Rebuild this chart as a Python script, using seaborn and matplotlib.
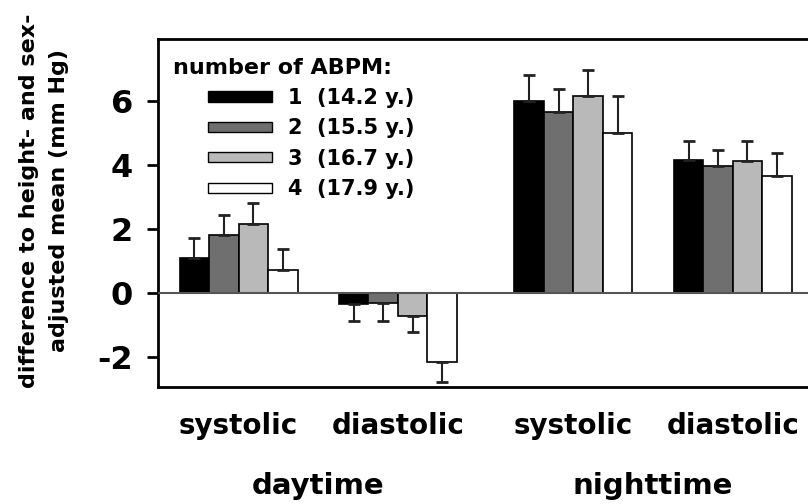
import matplotlib
matplotlib.use('Agg')
import matplotlib.pyplot as plt
import seaborn as sns
import pandas as pd
from matplotlib.patches import Patch
from matplotlib.transforms import blended_transform_factory

# chart data
periods = ['daytime', 'daytime', 'nighttime', 'nighttime']
measures = ['systolic', 'diastolic', 'systolic', 'diastolic']
abpm = ['1', '2', '3', '4']
ages = ['14.2', '15.5', '16.7', '17.9']

# mean difference per ABPM, in the order of `measures`
mean_1 = [1.10, -0.33, 6.01, 4.17]
mean_2 = [1.82, -0.31, 5.68, 3.99]
mean_3 = [2.16, -0.70, 6.18, 4.14]
mean_4 = [0.73, -2.16, 5.00, 3.67]

# error bar length (one-sided, away from zero)
err_1 = [0.63, 0.53, 0.81, 0.59]
err_2 = [0.63, 0.55, 0.72, 0.49]
err_3 = [0.65, 0.50, 0.80, 0.62]
err_4 = [0.65, 0.60, 1.17, 0.72]

means = [mean_1, mean_2, mean_3, mean_4]
errs = [err_1, err_2, err_3, err_4]
colors = ['#000000', '#6f6f6f', '#b9b9b9', '#ffffff']

# a little extra gap between daytime and nighttime groups
pos = [i + (0.1 if p == 'nighttime' else 0.0) for i, p in enumerate(periods)]

rows = []
for n, vals in zip(abpm, means):
    for x, v in zip(pos, vals):
        rows.append({'pos': x, 'abpm': n, 'value': v})
df = pd.DataFrame(rows)

sns.set_theme(style='white')
plt.rcParams['font.family'] = ['DejaVu Sans']
plt.rcParams['font.weight'] = 'bold'
plt.rcParams['axes.unicode_minus'] = False
for k in ['text.color', 'axes.labelcolor', 'xtick.color', 'ytick.color']:
    plt.rcParams[k] = 'black'

fig = plt.figure(figsize=(8.08, 5.04), dpi=100)
ax = fig.add_axes([158 / 808, 1 - 387 / 504, 672 / 808, 348 / 504])

sns.barplot(data=df, x='pos', y='value', hue='abpm', native_scale=True,
            palette=colors, edgecolor='black', linewidth=1.2, width=0.74,
            errorbar=None, legend=False, ax=ax)

# one-sided error bars
for cont, e_list in zip(ax.containers, errs):
    for bar, e in zip(cont, e_list):
        h = bar.get_height()
        xc = bar.get_x() + bar.get_width() / 2
        yerr = [[0], [e]] if h >= 0 else [[e], [0]]
        ax.errorbar(xc, h, yerr=yerr, fmt='none', ecolor='#222222',
                    elinewidth=1.5, capsize=4, capthick=2, zorder=1)

ax.axhline(0, color='#555555', lw=1.5, zorder=3)

ax.set_ylim(-2.93, 7.95)
ax.set_xlim(-0.505, 3.71)
ax.set_yticks([-2, 0, 2, 4, 6])
ax.tick_params(axis='y', left=True, direction='out', length=8, width=2,
               pad=10, labelsize=23, colors='black')
ax.set_xticks(pos, measures)
ax.tick_params(axis='x', length=0, pad=18, labelsize=20, colors='black')
for lab in ax.get_xticklabels() + ax.get_yticklabels():
    lab.set_fontweight('bold')
for s in ax.spines.values():
    s.set_color('black')
    s.set_linewidth(2)

ax.set_xlabel('')
ax.set_ylabel('')
fig.text(44 / 808, 1 - 201 / 504,
         'difference to height- and sex-\nadjusted mean (mm Hg)',
         rotation=90, ha='center', va='center', multialignment='center',
         fontsize=16, fontweight='bold', linespacing=1.6, color='black')

# period labels under each pair
tr = blended_transform_factory(ax.transData, ax.transAxes)
for p in ['daytime', 'nighttime']:
    xs = [x for x, q in zip(pos, periods) if q == p]
    ax.text(sum(xs) / len(xs), -0.2845, p, transform=tr, ha='center',
            va='center', fontsize=21, fontweight='bold', color='black')

# legend
ax.text(0.022, 0.917, 'number of ABPM:', transform=ax.transAxes,
        ha='left', va='center', fontsize=16, fontweight='bold', color='black')
handles = [Patch(facecolor=c, edgecolor='black', linewidth=1) for c in colors]
labels = [f'{n}  ({a} y.)' for n, a in zip(abpm, ages)]
leg = ax.legend(handles, labels, loc='upper left',
                bbox_to_anchor=(0.0744, 0.8595), frameon=False, borderpad=0,
                borderaxespad=0, handlelength=3.08, handleheight=0.38,
                handletextpad=0.77, labelspacing=0.5,
                prop={'size': 15, 'weight': 'bold'})
for t in leg.get_texts():
    t.set_color('black')

fig.savefig('out.png', dpi=100)
